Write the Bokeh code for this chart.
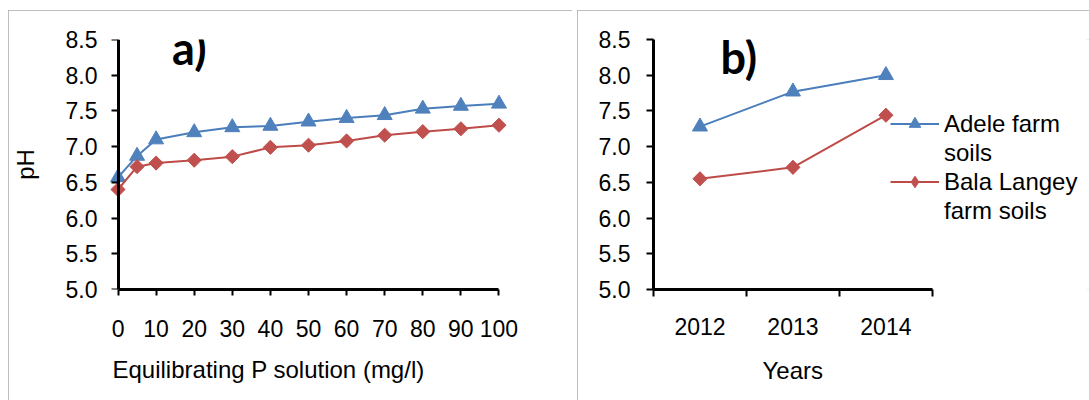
import math
from bokeh.plotting import figure
from bokeh.layouts import row
from bokeh.models import (Label, Legend, LegendItem, FixedTicker, PrintfTickFormatter,
                          LinearAxis, CustomJSTickFormatter, Title)
from bokeh.embed import file_html
from bokeh.resources import INLINE

# ---- data ----
p_conc = [0, 5, 10, 20, 30, 40, 50, 60, 70, 80, 90, 100]
adele_a = [6.57, 6.87, 7.10, 7.20, 7.27, 7.29, 7.35, 7.40, 7.44, 7.53, 7.57, 7.60]
bala_a = [6.40, 6.72, 6.77, 6.81, 6.86, 6.99, 7.02, 7.08, 7.16, 7.21, 7.25, 7.30]

years = ["2012", "2013", "2014"]
adele_b = [7.28, 7.77, 8.00]
bala_b = [6.55, 6.71, 7.44]

y_ticks = [5.0, 5.5, 6.0, 6.5, 7.0, 7.5, 8.0, 8.5]
x_ticks_a = [0, 10, 20, 30, 40, 50, 60, 70, 80, 90, 100]

series_names = ["Adele farm\nsoils", "Bala Langey\nfarm soils"]

BLUE_L, BLUE_F = "#4a7ebb", "#4f81bd"
RED_L, RED_F = "#be4b48", "#c0504d"
FONT = "Liberation Sans"
TICK_FS = "23px"
LAB_FS = "24px"
BORDER = {"outline": "2px solid #a8a8a8", "outline-offset": "-2px"}


def style_axis(ax):
    ax.axis_line_color = "black"
    ax.axis_line_width = 3
    ax.major_tick_line_color = "black"
    ax.major_tick_line_width = 2
    ax.major_tick_in = 0
    ax.major_tick_out = 7
    ax.minor_tick_line_color = None
    ax.major_label_text_font = FONT
    ax.major_label_text_font_size = TICK_FS
    ax.major_label_text_color = "black"
    ax.axis_label_text_font = FONT
    ax.axis_label_text_font_style = "normal"
    ax.axis_label_text_font_size = LAB_FS
    ax.axis_label_text_color = "black"


def clean(p):
    p.xgrid.visible = False
    p.ygrid.visible = False
    p.outline_line_color = None


# ---- panel a ----
p1 = figure(width=564, height=390, x_range=(-2.5, 102.5), y_range=(5.0, 8.5),
            output_backend="svg", toolbar_location=None,
            min_border_left=100, min_border_right=64, min_border_top=29, min_border_bottom=108)
clean(p1)
ya = p1.left[0]
xa = p1.below[0]
style_axis(ya)
style_axis(xa)
# labels-only axis at the frame edge
ya.ticker = FixedTicker(ticks=y_ticks)
ya.formatter = PrintfTickFormatter(format="%.1f")
ya.axis_line_color = None
ya.major_tick_line_color = None
ya.major_tick_out = 0
ya.major_label_standoff = 11
ya.axis_label = "pH"
ya.axis_label_standoff = 24
# visible axis line + ticks at x = 0
ax0 = LinearAxis(fixed_location=0, ticker=FixedTicker(ticks=y_ticks),
                 formatter=CustomJSTickFormatter(code="return ''"))
style_axis(ax0)
ax0.major_tick_out = 0
ax0.major_tick_in = 7
ax0.major_label_standoff = 0
p1.add_layout(ax0, "right")

xa.ticker = FixedTicker(ticks=x_ticks_a)
xa.bounds = (0, 100)
xa.major_tick_out = 6
xa.major_label_standoff = 24

p1.line(p_conc, adele_a, line_color=BLUE_L, line_width=2)
p1.scatter(p_conc, adele_a, marker="triangle", size=15, fill_color=BLUE_F, line_color=BLUE_F)
p1.line(p_conc, bala_a, line_color=RED_L, line_width=2)
p1.scatter(p_conc, bala_a, marker="square", angle=math.pi / 4, size=10,
           fill_color=RED_F, line_color=RED_F)

p1.add_layout(Label(x=14.2, y=8.38, text="a)", text_font="Lato", text_font_style="bold",
                    text_font_size="45px", text_color="black", text_baseline="alphabetic"))
p1.add_layout(Title(text="Equilibrating P solution (mg/l)", align="left", offset=4, standoff=28,
                    text_font=FONT, text_font_size=LAB_FS, text_font_style="normal",
                    text_color="black"), "below")

# ---- panel b ----
xb = [i + 0.5 for i in range(len(years))]
p2 = figure(width=512, height=390, x_range=(0, 4.69), y_range=(5.0, 8.5),
            output_backend="svg", toolbar_location=None,
            min_border_left=76, min_border_right=0, min_border_top=25, min_border_bottom=110)
clean(p2)
yb = p2.left[0]
xbx = p2.below[0]
style_axis(yb)
style_axis(xbx)
yb.ticker = FixedTicker(ticks=y_ticks)
yb.formatter = PrintfTickFormatter(format="%.1f")
yb.major_label_standoff = 16
xbx.bounds = (0, len(years))
xbx.ticker = FixedTicker(ticks=xb, minor_ticks=list(range(len(years) + 1)))
xbx.major_label_overrides = {x: y for x, y in zip(xb, years)}
xbx.major_tick_out = 0
xbx.major_tick_line_color = None
xbx.minor_tick_line_color = "black"
xbx.minor_tick_line_width = 2
xbx.minor_tick_in = 0
xbx.minor_tick_out = 7
xbx.major_label_standoff = 21

la = p2.line(xb, adele_b, line_color=BLUE_L, line_width=2)
sa = p2.scatter(xb, adele_b, marker="triangle", size=15, fill_color=BLUE_F, line_color=BLUE_F)
lb = p2.line(xb, bala_b, line_color=RED_L, line_width=2)
sd = p2.scatter(xb, bala_b, marker="diamond", size=13, fill_color=RED_F, line_color=RED_F)
p2.scatter(xb, bala_b, marker="square", angle=math.pi / 4, size=10,
           fill_color=RED_F, line_color=RED_F)
blank = p2.scatter([], [], alpha=0)

first_a, second_a = series_names[0].split("\n")
first_b, second_b = series_names[1].split("\n")
legend = Legend(items=[
    LegendItem(label=first_a, renderers=[la, sa]),
    LegendItem(label=second_a, renderers=[blank]),
    LegendItem(label=first_b, renderers=[lb, sd]),
    LegendItem(label=second_b, renderers=[blank]),
], location=(237, 64), padding=0, margin=0, border_line_color=None, background_fill_alpha=0,
    glyph_width=49, glyph_height=29, label_height=29, spacing=0, label_standoff=5,
    label_text_font=FONT, label_text_font_size=LAB_FS, label_text_color="black")
p2.add_layout(legend)

p2.add_layout(Label(x=0.72, y=8.25, text="b)", text_font="Lato", text_font_style="bold",
                    text_font_size="45px", text_color="black", text_baseline="alphabetic"))
p2.add_layout(Title(text="Years", align="left", offset=109, standoff=34,
                    text_font=FONT, text_font_size=LAB_FS, text_font_style="normal",
                    text_color="black"), "below")

p1.styles = BORDER
p2.styles = BORDER
p1.margin = (10, 0, 0, 8)
p2.margin = (10, 0, 0, 0)

layout = row(p1, p2, spacing=5)
open("out.html", "w").write(file_html(layout, INLINE))
